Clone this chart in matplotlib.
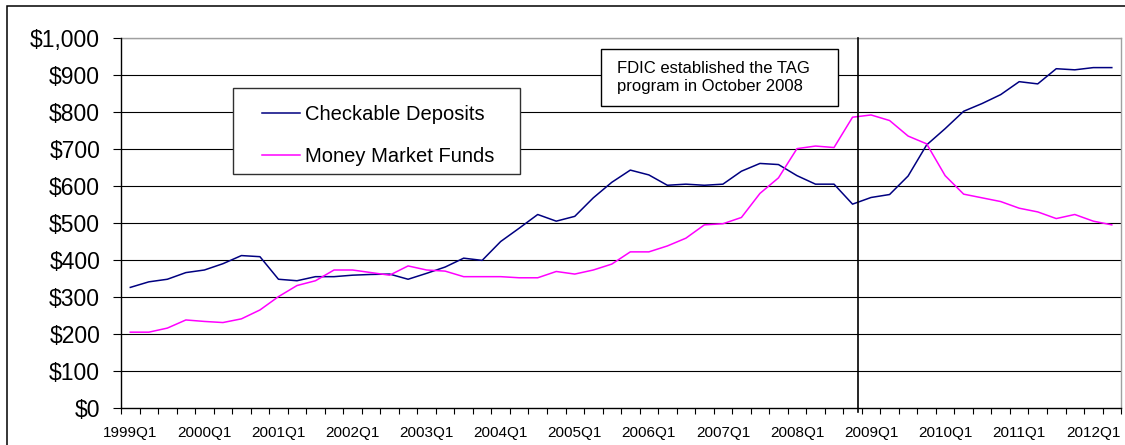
import numpy as np
import matplotlib
matplotlib.use("Agg")
import matplotlib.pyplot as plt
from matplotlib.patches import Rectangle

plt.rcParams['font.family'] = ['Liberation Sans', 'DejaVu Sans']

# ── data (billions of dollars, quarterly 1999Q1 - 2012Q2) ──
quarters = [f"{y}Q{q}" for y in range(1999, 2013) for q in range(1, 5)][:54]

checkable = [326, 341, 348, 366, 373, 390, 412, 409, 348, 344,
             355, 355, 359, 361, 362, 348, 364, 381, 405, 399,
             450, 486, 523, 505, 518, 568, 610, 643, 630, 602,
             605, 602, 605, 640, 661, 658, 628, 605, 605, 551,
             569, 577, 627, 711, 755, 802, 823, 847, 882, 876,
             917, 914, 920, 920]

money_market = [205, 205, 216, 238, 234, 231, 241, 265, 301, 331,
                344, 373, 373, 366, 359, 384, 373, 370, 355, 355,
                355, 352, 352, 369, 362, 373, 389, 422, 422, 438,
                459, 495, 498, 515, 580, 622, 701, 708, 704, 786,
                792, 777, 735, 714, 628, 578, 568, 558, 540, 530,
                512, 523, 505, 495]

yticks = [0, 100, 200, 300, 400, 500, 600, 700, 800, 900, 1000]
ytick_labels = ["$0", "$100", "$200", "$300", "$400", "$500",
                "$600", "$700", "$800", "$900", "$1,000"]
tag_position = 39.3   # Oct 2008, just after 2008Q4 point
note_text = "FDIC established the TAG\nprogram in October 2008"

x = np.arange(len(quarters))

fig = plt.figure(figsize=(11.25, 4.45), dpi=100)
ax = fig.add_axes([0.1076, 0.0831, 0.8889, 0.8315])

# outer frame around the whole chart
fig.patches.append(Rectangle((0.0062, -0.2), 1.5, 0.2 + 0.9854,
                             transform=fig.transFigure, fill=False,
                             edgecolor='black', linewidth=1.1))

ax.set_xlim(-0.5, len(quarters) - 0.5)
ax.set_ylim(0, 1000)

for v in yticks[1:]:
    ax.axhline(v, color='black', linewidth=0.8, zorder=1)

ax.plot(x, checkable, color='#000080', linewidth=1.1, zorder=3,
        label='Checkable Deposits')
ax.plot(x, money_market, color='#FF00FF', linewidth=1.1, zorder=3,
        label='Money Market Funds')

ax.axvline(tag_position, ymin=-0.012, ymax=1, color='black',
           linewidth=1.2, zorder=4, clip_on=False)

# spines
for s in ['left', 'bottom']:
    ax.spines[s].set_color('black')
    ax.spines[s].set_linewidth(1.0)
for s in ['top', 'right']:
    ax.spines[s].set_color('#A0A0A0')
    ax.spines[s].set_linewidth(1.0)
ax.spines['top'].set_zorder(2)

# y axis
ax.set_yticks(yticks)
ax.set_yticklabels(ytick_labels, fontsize=16.5)
ax.tick_params(axis='y', length=6, width=0.8, pad=9)

# x axis: tick marks at category boundaries, labels every 4 quarters
ax.set_xticks(np.arange(-0.5, len(quarters), 1.0))
ax.set_xticklabels([])
ax.tick_params(axis='x', which='major', length=4.5, width=0.8)
lab_idx = np.arange(0, len(quarters), 4)
ax.set_xticks(lab_idx, minor=True)
ax.set_xticklabels([quarters[i] for i in lab_idx], minor=True, fontsize=11)
ax.tick_params(axis='x', which='minor', length=0, pad=13)

# legend (frame drawn separately)
ax.add_patch(Rectangle((0.112, 0.632), 0.287, 0.233, transform=ax.transAxes,
                       facecolor='white', edgecolor='#303030',
                       linewidth=1.0, zorder=5))
leg = ax.legend(loc='center left', bbox_to_anchor=(0.141, 0.737),
                frameon=False, fontsize=14.5, handlelength=1.9,
                handletextpad=0.25, labelspacing=1.15, borderpad=0,
                borderaxespad=0)
leg.set_zorder(6)

# annotation box
ax.add_patch(Rectangle((0.48, 0.816), 0.237, 0.154, transform=ax.transAxes,
                       facecolor='white', edgecolor='black',
                       linewidth=1.0, zorder=5))
ax.text(0.496, 0.893, note_text, transform=ax.transAxes, fontsize=12,
        ha='left', va='center', linespacing=1.3, zorder=6)

fig.savefig('out.png', dpi=100)
